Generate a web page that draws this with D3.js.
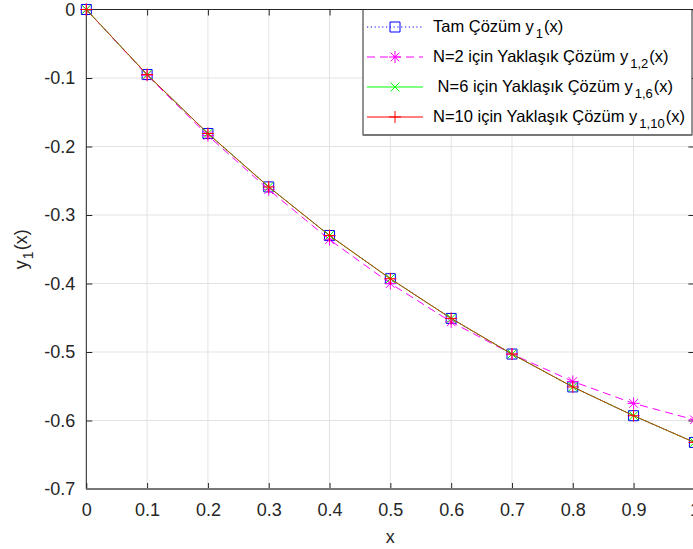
<!DOCTYPE html>
<html>
<head>
<meta charset="utf-8">
<script src="https://cdn.jsdelivr.net/npm/d3@7"></script>
<style>
  body { margin: 0; background: #fff; }
  svg { font-family: "Liberation Sans", Arial, sans-serif; }
</style>
</head>
<body>
<svg id="chart" width="693" height="549"></svg>
<script>
var xs     = [0, 0.1, 0.2, 0.3, 0.4, 0.5, 0.6, 0.7, 0.8, 0.9, 1.0];
var yExact = [0, -0.095, -0.181, -0.259, -0.330, -0.393, -0.451, -0.503, -0.551, -0.593, -0.632];
var yN2    = [0, -0.096, -0.184, -0.263, -0.336, -0.400, -0.456, -0.503, -0.543, -0.575, -0.599];
var yN6    = [0, -0.095, -0.181, -0.259, -0.330, -0.393, -0.451, -0.503, -0.551, -0.593, -0.632];
var yN10   = [0, -0.095, -0.181, -0.259, -0.330, -0.393, -0.451, -0.503, -0.551, -0.593, -0.632];
var xTicks = [0, 0.1, 0.2, 0.3, 0.4, 0.5, 0.6, 0.7, 0.8, 0.9, 1];
var yTicks = [0, -0.1, -0.2, -0.3, -0.4, -0.5, -0.6, -0.7];

var dim = { left: 86.3, right: 694.4, top: 9.5, bottom: 489 };
var svg = d3.select("#chart");

var x = d3.scaleLinear().domain([0, 1]).range([dim.left, dim.right]);
var y = d3.scaleLinear().domain([-0.7, 0]).range([dim.bottom, dim.top]);

// grid
var grid = svg.append("g").attr("stroke", "#e3e3e3").attr("stroke-width", 1);
grid.selectAll(".gx").data(xTicks).enter().append("line")
	.attr("x1", d => x(d)).attr("x2", d => x(d))
	.attr("y1", dim.top).attr("y2", dim.bottom);
grid.selectAll(".gy").data(yTicks).enter().append("line")
	.attr("y1", d => y(d)).attr("y2", d => y(d))
	.attr("x1", dim.left).attr("x2", dim.right);

// axes, ticks inside, MATLAB style
var xAxis = d3.axisBottom(x).tickValues(xTicks).tickSize(-6).tickPadding(14)
	.tickFormat(d => d === 1 ? "1" : d3.format("~g")(d));
var yAxis = d3.axisLeft(y).tickValues(yTicks).tickSize(-6).tickPadding(11)
	.tickFormat(d => d3.format("~g")(d).replace("−", "-"));

function styleAxis(g) {
	g.select(".domain").remove();
	g.selectAll("line").attr("stroke", "#262626");
	g.selectAll("text").attr("fill", "#262626").style("font-size", "18px");
}

svg.append("g").attr("transform", `translate(0,${dim.bottom})`).call(xAxis).call(styleAxis);
svg.append("g").attr("transform", `translate(${dim.left},0)`).call(yAxis).call(styleAxis);
svg.append("g").attr("transform", `translate(0,${dim.top})`)
	.call(d3.axisTop(x).tickValues(xTicks).tickSize(-6).tickFormat(""))
	.call(styleAxis);
svg.append("g").attr("transform", `translate(${dim.right},0)`)
	.call(d3.axisRight(y).tickValues(yTicks).tickSize(-6).tickFormat(""))
	.call(styleAxis);

// box: left/top dark, bottom drawn a bit heavier grey like the reference
svg.append("path")
	.attr("d", `M${dim.left},${dim.bottom}V${dim.top}H${dim.right}V${dim.bottom}`)
	.attr("fill", "none").attr("stroke", "#262626").attr("stroke-width", 1);
svg.append("line")
	.attr("x1", dim.left).attr("x2", dim.right).attr("y1", dim.bottom).attr("y2", dim.bottom)
	.attr("stroke", "#777").attr("stroke-width", 2);

// axis labels
svg.append("text")
	.attr("x", (dim.left + dim.right) / 2).attr("y", 543)
	.attr("text-anchor", "middle").style("font-size", "18px").attr("fill", "#262626")
	.text("x");
var yl = svg.append("text")
	.attr("transform", `translate(27,${(dim.top + dim.bottom) / 2}) rotate(-90)`)
	.attr("text-anchor", "middle").style("font-size", "18px").attr("fill", "#262626");
yl.append("tspan").text("y");
yl.append("tspan").attr("dy", 6).attr("dx", 1).style("font-size", "14px").text("1");
yl.append("tspan").attr("dy", -6).attr("dx", 1).text("(x)");

// marker paths
function markerPath(type, cx, cy) {
	var p = d3.path();
	if (type === "square") {
		p.rect(cx - 5, cy - 5, 10, 10);
	} else if (type === "star") {
		var r = 6;
		p.moveTo(cx - r, cy); p.lineTo(cx + r, cy);
		p.moveTo(cx, cy - r); p.lineTo(cx, cy + r);
		var s = r * 0.72;
		p.moveTo(cx - s, cy - s); p.lineTo(cx + s, cy + s);
		p.moveTo(cx - s, cy + s); p.lineTo(cx + s, cy - s);
	} else if (type === "x") {
		var t = 4.5;
		p.moveTo(cx - t, cy - t); p.lineTo(cx + t, cy + t);
		p.moveTo(cx - t, cy + t); p.lineTo(cx + t, cy - t);
	} else if (type === "plus") {
		var q = 6;
		p.moveTo(cx - q, cy); p.lineTo(cx + q, cy);
		p.moveTo(cx, cy - q); p.lineTo(cx, cy + q);
	}
	return p.toString();
}

var series = [
	{ vals: yExact, color: "#0000ff", dash: "1.2,2.6", marker: "square", opacity: 1 },
	{ vals: yN2,    color: "#ff00ff", dash: "8,5",     marker: "star",   opacity: 1 },
	{ vals: yN6,    color: "#00ff00", dash: null,      marker: "x",      opacity: 1 },
	{ vals: yN10,   color: "#ff0000", dash: null,      marker: "plus",   opacity: 0.75 }
];

var line = d3.line().x(d => x(d[0])).y(d => y(d[1]));

series.forEach(function (s) {
	var pts = xs.map((v, i) => [v, s.vals[i]]);
	svg.append("path")
		.attr("d", line(pts))
		.attr("fill", "none")
		.attr("stroke", s.color)
		.attr("stroke-width", 1)
		.attr("stroke-opacity", s.opacity)
		.attr("stroke-dasharray", s.dash);
	svg.append("g").selectAll("path").data(pts).enter().append("path")
		.attr("d", d => markerPath(s.marker, x(d[0]), y(d[1])))
		.attr("fill", "none")
		.attr("stroke", s.color)
		.attr("stroke-width", 1);
});

// legend
var legendLabels = [
	{ pre: "Tam Çözüm y", sub: "1", post: "(x)" },
	{ pre: "N=2 için Yaklaşık Çözüm y", sub: "1,2", post: "(x)" },
	{ pre: "\u00a0N=6 için Yaklaşık Çözüm y", sub: "1,6", post: "(x)" },
	{ pre: "N=10 için Yaklaşık Çözüm y", sub: "1,10", post: "(x)" }
];

var lg = svg.append("g");
lg.append("rect")
	.attr("x", 363).attr("y", dim.top).attr("width", 329).attr("height", 125.5)
	.attr("fill", "#fff").attr("stroke", "#262626").attr("stroke-width", 1);
lg.append("line")
	.attr("x1", 363).attr("x2", 692).attr("y1", 135).attr("y2", 135)
	.attr("stroke", "#777").attr("stroke-width", 2);

legendLabels.forEach(function (l, i) {
	var s = series[i];
	var cy = 27 + i * 30;
	lg.append("line")
		.attr("x1", 367).attr("x2", 423).attr("y1", cy).attr("y2", cy)
		.attr("stroke", s.color).attr("stroke-width", 1)
		.attr("stroke-dasharray", s.dash);
	lg.append("path")
		.attr("d", markerPath(s.marker, 395, cy))
		.attr("fill", "none").attr("stroke", s.color).attr("stroke-width", 1);
	var t = lg.append("text")
		.attr("x", 433).attr("y", cy + 5)
		.style("font-size", "16.5px").attr("fill", "#000");
	t.append("tspan").text(l.pre);
	t.append("tspan").attr("dy", 6).attr("dx", 2).style("font-size", "13px").text(l.sub);
	t.append("tspan").attr("dy", -6).attr("dx", 1).text(l.post);
});
</script>
</body>
</html>
